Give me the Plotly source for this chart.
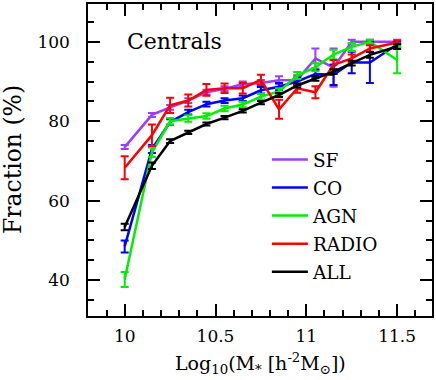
import plotly.graph_objects as go

# stellar mass bins, log10(M* [h^-2 Msun])
log_mass = [10, 10.15, 10.25, 10.35, 10.45, 10.55, 10.65, 10.75, 10.85, 10.95, 11.05, 11.15, 11.25, 11.35, 11.5]

# central fraction (%) for each sample
sf = [73.5, 81.6, 83.5, 85.2, 87.3, 88.2, 89.3, 89.6, 90.3, 90.4, 95.8, 93.5, 100, 100, 100]
sf_err = [0.5, 0.5, 0.6, 0.6, 0.6, 0.6, 0.7, 0.8, 1.0, 1.2, 2.5, 4.8, 0.5, 0.5, 0.5]

co = [48.5, 73.0, 79.8, 82.3, 84.3, 85.2, 85.8, 87.8, 88.7, 90.0, 91.9, 91.7, 94.8, 94.8, 99.3]
co_err = [1.5, 1.0, 0.7, 0.6, 0.6, 0.6, 0.7, 0.8, 0.9, 1.0, 1.0, 2.6, 2.7, 5.2, 0.7]

agn = [40.2, 72.2, 80.0, 80.7, 81.3, 83.2, 84.2, 86.2, 87.5, 91.5, 93.6, 96.8, 98.7, 100, 95.4]
agn_err = [1.9, 1.2, 0.8, 0.8, 0.7, 0.7, 0.7, 0.7, 0.8, 0.9, 1.0, 1.2, 1.0, 0.5, 3.3]

radio = [68.3, 76.5, 84.0, 85.2, 87.9, 88.3, 88.3, 90.4, 83.0, 88.3, 87.3, 94.2, 95.8, 98.3, 99.8]
radio_err = [2.9, 2.7, 1.9, 1.5, 1.5, 1.2, 1.3, 1.3, 2.4, 1.1, 1.5, 1.2, 1.0, 0.8, 0.5]

all_gal = [53.4, 68.8, 75.0, 77.2, 79.3, 80.9, 82.6, 84.7, 86.6, 89.0, 90.8, 92.5, 94.6, 96.7, 98.8]
all_err = [0.8, 0.8, 0.5, 0.4, 0.4, 0.4, 0.4, 0.4, 0.5, 0.5, 0.6, 0.6, 0.6, 0.7, 0.6]

series = [
    ("SF", sf, sf_err, "#9b3cff"),
    ("CO", co, co_err, "#0000ff"),
    ("AGN", agn, agn_err, "#00ee00"),
    ("RADIO", radio, radio_err, "#ff0000"),
    ("ALL", all_gal, all_err, "#000000"),
]

font = "DejaVu Serif"

fig = go.Figure()
for name, y, err, color in series:
    fig.add_trace(go.Scatter(
        x=log_mass, y=y, name=name, mode="lines",
        legendgroup=name,
        line=dict(color=color, width=2.5),
        error_y=dict(type="data", array=err, color=color, thickness=2, width=4),
    ))

axis_common = dict(
    showline=True, linecolor="black", linewidth=1.5, mirror="allticks",
    ticks="inside", ticklen=12, tickwidth=1.5, tickcolor="black",
    showgrid=False, zeroline=False,
    tickfont=dict(family=font, size=17, color="black"),
)

fig.update_layout(
    width=436, height=380,
    margin=dict(l=88, r=3, t=2, b=64),
    paper_bgcolor="white", plot_bgcolor="white",
    showlegend=True,
    legend=dict(
        x=0.52, xanchor="left", y=0.561, yanchor="top",
        font=dict(family=font, size=18.5, color="black"),
        itemwidth=36, tracegroupgap=1, bgcolor="rgba(0,0,0,0)",
    ),
    xaxis=dict(
        range=[9.798, 11.692], tickvals=[10, 10.5, 11, 11.5],
        ticktext=["10", "10.5", "11", "11.5"],
        ticklabelstandoff=4,
        minor=dict(ticks="inside", ticklen=6, tickwidth=1.5, tickcolor="black", dtick=0.1, tick0=10),
        **axis_common,
    ),
    yaxis=dict(
        range=[31, 109.5], tickvals=[40, 60, 80, 100],
        ticklabelstandoff=13,
        minor=dict(ticks="inside", ticklen=6, tickwidth=1.5, tickcolor="black", dtick=5, tick0=40),
        **axis_common,
    ),
    annotations=[
        dict(text="Centrals", x=10, y=100, xref="x", yref="y", xanchor="left", yanchor="middle",
             showarrow=False, font=dict(family=font, size=22, color="black")),
        dict(text="Log<sub>10</sub>(M<sub>*</sub> [h<sup>-2</sup>M<sub>\u2299</sub>])",
             x=0.5, y=0, xref="paper", yref="paper", xanchor="center", yanchor="middle", yshift=-47,
             showarrow=False, font=dict(family=font, size=19, color="black")),
        dict(text="Fraction (%)", x=0, y=0.5, xref="paper", yref="paper", xanchor="center",
             yanchor="middle", xshift=-75, textangle=-90,
             showarrow=False, font=dict(family=font, size=23.5, color="black")),
    ],
)

fig.write_html("out.html", config={"displayModeBar": False},
               post_script="document.body.style.margin='0';")
